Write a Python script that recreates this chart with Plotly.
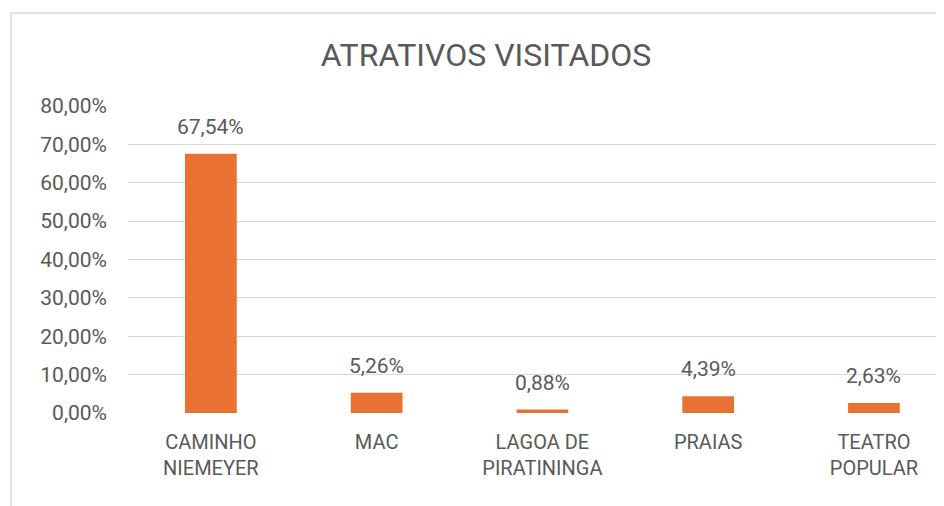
import plotly.graph_objects as go

categories = ["CAMINHO<br>NIEMEYER", "MAC", "LAGOA DE<br>PIRATININGA", "PRAIAS", "TEATRO<br>POPULAR"]
values = [0.6754, 0.0526, 0.0088, 0.0439, 0.0263]
y_ticks = [0, 0.1, 0.2, 0.3, 0.4, 0.5, 0.6, 0.7, 0.8]
title_text = "ATRATIVOS VISITADOS"

TEXT = "#595959"
FONT = "Roboto"
BAR = "#E97132"

# page body has an 8px margin; figure coordinates are offset accordingly
ML, MT, MB = 120, 98, 101
PLOT_W = 944 - ML
PLOT_H = 506 - MT - MB

fig = go.Figure()
fig.add_trace(go.Bar(
    x=list(range(len(categories))),
    y=values,
    width=0.312,
    marker=dict(color=BAR, line=dict(width=0)),
    hoverinfo="skip",
))

for i, v in enumerate(values):
    fig.add_annotation(
        x=i, y=v, xref="x", yref="y",
        text=f"{v*100:.2f}%".replace(".", ","),
        showarrow=False, yanchor="bottom", yshift=13,
        font=dict(family=FONT, size=21, color=TEXT),
    )

fig.update_layout(
    width=944, height=506,
    margin=dict(l=ML, r=0, t=MT, b=MB),
    paper_bgcolor="white", plot_bgcolor="white",
    separators=",.",
    showlegend=False,
    title=dict(text=title_text, x=(486 - 8) / 944, xref="container", xanchor="center",
               y=1 - 47 / 506, yref="container", yanchor="middle",
               font=dict(family=FONT, size=32, color=TEXT)),
    xaxis=dict(
        range=[-0.5, 4.471],
        tickmode="array",
        tickvals=list(range(len(categories))),
        ticktext=categories,
        showgrid=False, zeroline=False, showline=False,
        ticks="", ticklabelstandoff=15,
        tickfont=dict(family=FONT, size=20, color=TEXT),
        fixedrange=True,
    ),
    yaxis=dict(
        range=[0, 0.8],
        tickmode="array", tickvals=y_ticks, tickformat=".2%",
        showgrid=True, gridcolor="#D9D9D9", gridwidth=1,
        zeroline=False, showline=False, ticks="",
        ticklabelstandoff=20,
        tickfont=dict(family=FONT, size=21, color=TEXT),
        fixedrange=True,
    ),
    shapes=[dict(type="rect", xref="paper", yref="paper",
                 x0=(3 - ML) / PLOT_W, x1=1.05,
                 y0=-0.5, y1=(506 - MB - 5) / PLOT_H,
                 line=dict(color="#D9D9D9", width=1.5), layer="below")],
)

fig.write_html("out.html", config={"displayModeBar": False})
